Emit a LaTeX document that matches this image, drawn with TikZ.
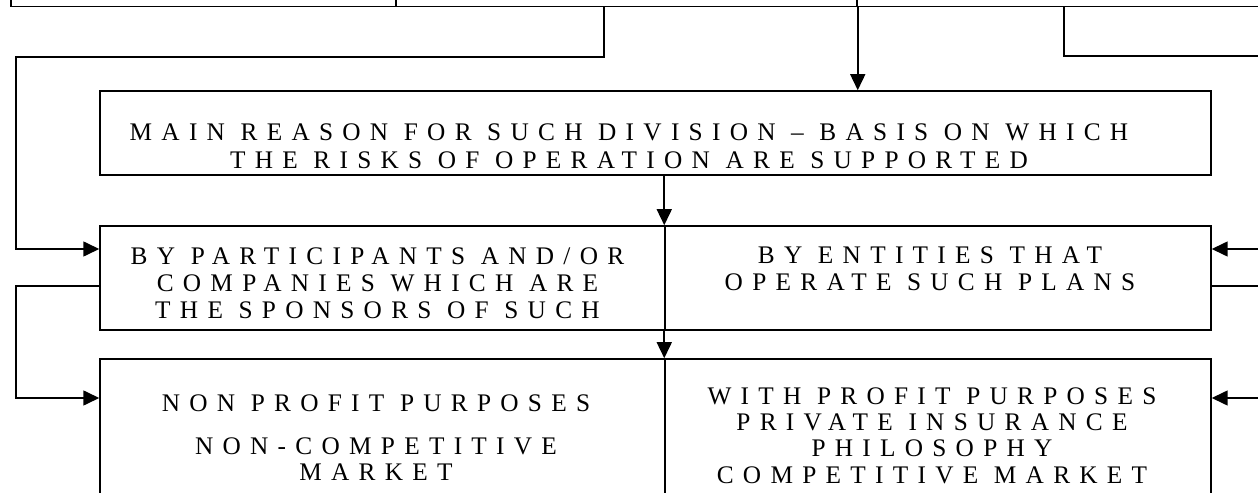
\documentclass[tikz,border=0pt]{standalone}
\usepackage{fontspec}
\setmainfont{Liberation Serif}
\usetikzlibrary{arrows.meta}
\newcommand\spacedfont[1]{\fontsize{14.4}{#1}\selectfont\addfontfeature{LetterSpace=36.7}}

\begin{document}
\begin{tikzpicture}[x=0.02cm, y=-0.02cm, line width=0.9pt,
    blk/.style={draw, rectangle, inner sep=0pt},
    txt/.style={align=center, inner sep=0pt},
    arr/.style={-{Triangle[length=0.32cm, width=0.3cm]}}]
    \useasboundingbox (0,0) rectangle (1258,493);
    \clip (0,0) rectangle (1258,493);

    \node[blk, minimum width=7.7cm,  minimum height=1.34cm] (top1) at (203.5,-27) {};
    \node[blk, minimum width=9.22cm, minimum height=1.34cm] (top2) at (626.5,-27) {};
    \node[blk, minimum width=9.26cm, minimum height=1.34cm] (top3) at (1088.5,-27) {};
    \node[blk, minimum width=22.22cm, minimum height=1.68cm] (main) at (655.5,133) {};
    \node[blk, minimum width=11.3cm,  minimum height=2.08cm] (byPart) at (382.5,278) {};
    \node[blk, minimum width=10.92cm, minimum height=2.08cm] (byEnt) at (938,278) {};
    \node[blk, minimum width=11.3cm,  minimum height=3.22cm] (nonProfit) at (382.5,439.5) {};
    \node[blk, minimum width=10.92cm, minimum height=3.22cm] (wProfit) at (938,439.5) {};

    \node[txt, font=\spacedfont{16pt}] (mainT) at (629,146)
        {MAIN REASON FOR SUCH DIVISION – BASIS ON WHICH\\THE RISKS OF OPERATION ARE SUPPORTED};
    \node[txt, font=\spacedfont{15.4pt}] (byPartT) at (377.5,283)
        {BY PARTICIPANTS AND/OR\\COMPANIES WHICH ARE\\THE SPONSORS OF SUCH};
    \node[txt, font=\spacedfont{15.4pt}] (byEntT) at (930,269)
        {BY ENTITIES THAT\\OPERATE SUCH PLANS};
    \node[txt, font=\spacedfont{14.8pt}] (nonProfitT) at (376,437.5)
        {NON PROFIT PURPOSES\\[0.34cm]NON-COMPETITIVE\\MARKET};
    \node[txt, font=\spacedfont{15pt}] (wProfitT) at (932,435.5)
        {WITH PROFIT PURPOSES\\PRIVATE INSURANCE\\PHILOSOPHY\\COMPETITIVE MARKET};

    \coordinate (lUp) at (604,57);
    \coordinate (lIn1) at (16,249);
    \coordinate (lOut2) at (16,286);
    \coordinate (lIn2) at (16,398);
    \coordinate (rUp) at (1064,56);
    \coordinate (rEnd) at (1270,56);
    \coordinate (rIn1) at (1270,249);
    \coordinate (rOut2) at (1270,286);
    \coordinate (rIn2) at (1270,398);

    \draw[arr] (lUp |- top2.south) -- (lUp) -| (lIn1) -- (lIn1 -| byPart.west);
    \draw[arr] (top2.south east) -- (top2.south east |- main.north);
    \draw (rUp |- top3.south) -- (rUp) -- (rEnd);
    \draw[arr] (byEnt.north west |- main.south) -- (byEnt.north west);
    \draw[arr] (byEnt.south west) -- (wProfit.north west);
    \draw[arr] (lOut2 -| byPart.west) -- (lOut2) -- (lIn2) -- (lIn2 -| nonProfit.west);
    \draw[arr] (rIn1) -- (rIn1 -| byEnt.east);
    \draw (rOut2 -| byEnt.east) -- (rOut2);
    \draw[arr] (rIn2) -- (rIn2 -| wProfit.east);
\end{tikzpicture}
\end{document}
